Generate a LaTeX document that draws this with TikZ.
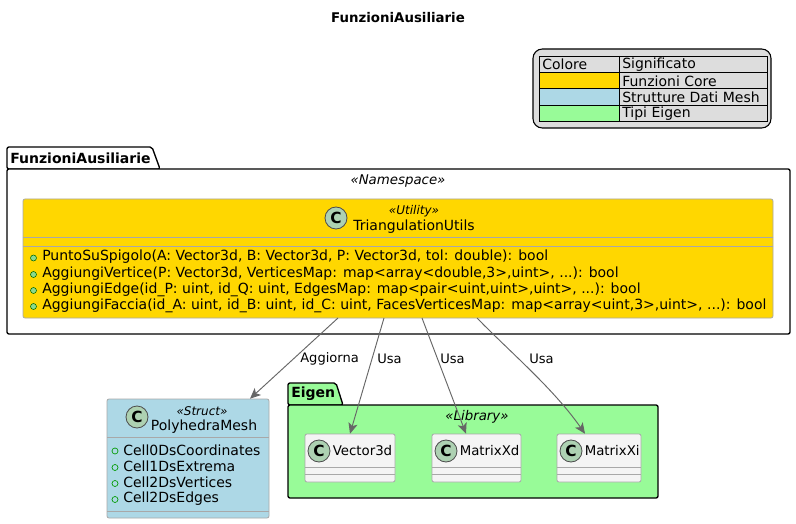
\documentclass[tikz,border=0pt]{standalone}
\usepackage{fontspec}
\setmainfont{DejaVu Sans}
\usetikzlibrary{arrows.meta,calc}
\definecolor{gold}{HTML}{FFD700}
\definecolor{lblue}{HTML}{ADD8E6}
\definecolor{pgreen}{HTML}{98FB98}
\definecolor{legbg}{HTML}{DDDDDD}
\definecolor{clsbg}{HTML}{F4F4F4}
\definecolor{clsline}{HTML}{A8A8A8}
\definecolor{circfill}{HTML}{ADD1B2}
\definecolor{conncol}{HTML}{666666}
\tikzset{
  conn/.style={draw=conncol,line width=0.7pt,-{Stealth[length=8pt,width=7pt,inset=2pt]}},
  clsbox/.style={draw=clsline,line width=0.6pt,rounded corners=1.5pt},
  cicon/.style={circle,draw=black!70,fill=circfill,line width=0.6pt,minimum size=16.5pt,inner sep=0pt,font=\fontsize{11.5}{11.5}\selectfont\bfseries},
  txt/.style={inner sep=0pt,font=\fontsize{10.5}{12}\selectfont},
  ster/.style={inner sep=0pt,font=\fontsize{9}{10}\selectfont\itshape},
  lbl/.style={inner sep=0pt,font=\fontsize{9.8}{11}\selectfont},
  bullet/.style={circle,draw=black!60!green,fill=circfill!80!green,line width=0.4pt,minimum size=4.5pt,inner sep=0pt},
  obullet/.style={circle,draw=black!40!green,line width=0.5pt,minimum size=4.5pt,inner sep=0pt},
}
\begin{document}
\begin{tikzpicture}[x=0.75pt,y=-0.75pt]
\useasboundingbox (0,0) rectangle (796,524);
\fill[white] (0,0) rectangle (796,524);
% title
\node[txt,font=\fontsize{10}{12}\selectfont\bfseries] (title) at (398,18) {FunzioniAusiliarie};
% legend
\draw[fill=legbg,line width=0.8pt,rounded corners=7pt] (533,49) rectangle (771,128);
\fill[gold] (539,72) rectangle (619,88.5);
\fill[lblue] (539,88.5) rectangle (619,105);
\fill[pgreen] (539,105) rectangle (619,121);
\draw[line width=0.7pt] (539,56) rectangle (767,121);
\draw[line width=0.5pt] (619,56) -- (619,121);
\foreach \y in {72,88.5,105} \draw[line width=0.5pt] (539,\y) -- (767,\y);
\node[txt,anchor=west] (l1a) at (542,64.5) {Colore};
\node[txt,anchor=west] (l1b) at (622,64.5) {Significato};
\node[txt,anchor=west] (l2) at (622,81) {Funzioni Core};
\node[txt,anchor=west] (l3) at (622,97.5) {Strutture Dati Mesh};
\node[txt,anchor=west] (l4) at (622,113.5) {Tipi Eigen};
% package FunzioniAusiliarie
\draw[fill=white,line width=1pt,rounded corners=1.5pt] (7,169) -- (7,147) -- (152,147) -- (160,169) -- cycle;
\draw[fill=white,line width=1pt,rounded corners=1.5pt] (7,169) rectangle (790,334);
\node[txt,font=\fontsize{10.5}{12}\selectfont\bfseries,anchor=west] (pkg1) at (10,158) {FunzioniAusiliarie};
\node[txt,font=\fontsize{10}{12}\selectfont\itshape] (ns) at (398,181) {«Namespace»};
% TriangulationUtils
\path[clsbox,fill=gold,draw=clsline] (23,199) rectangle (773,318);
\node[inner sep=0pt,minimum width=750*0.75pt,minimum height=119*0.75pt] (tu) at (398,258.5) {};
\draw[clsline,line width=0.6pt] (23,237) -- (773,237);
\draw[clsline,line width=0.6pt] (23,246) -- (773,246);
\node[cicon] (tuc) at (336,218) {C};
\node[ster] (tust) at (414,211) {«Utility»};
\node[txt] (tun) at (414,227) {TriangulationUtils};
\foreach \y/\t [count=\i] in {257/{PuntoSuSpigolo(A: Vector3d, B: Vector3d, P: Vector3d, tol: double): bool},
  273.5/{AggiungiVertice(P: Vector3d, VerticesMap: map<array<double,3>,uint>, ...): bool},
  289.5/{AggiungiEdge(id\_P: uint, id\_Q: uint, EdgesMap: map<pair<uint,uint>,uint>, ...): bool},
  305.5/{AggiungiFaccia(id\_A: uint, id\_B: uint, id\_C: uint, FacesVerticesMap: map<array<uint,3>,uint>, ...): bool}}
{
  \node[bullet] (tb\i) at (33.5,\y+1) {};
  \node[txt,anchor=west] (tm\i) at (42,\y) {\t};
}
% PolyhedraMesh
\path[clsbox,fill=lblue,draw=clsline] (107,399) rectangle (269,518);
\node[inner sep=0pt,minimum width=162*0.75pt,minimum height=119*0.75pt] (pm) at (188,458.5) {};
\draw[clsline,line width=0.6pt] (107,437) -- (269,437);
\draw[clsline,line width=0.6pt] (107,511) -- (269,511);
\node[cicon] (pmc) at (137,417) {C};
\node[ster] (pmst) at (202,411) {«Struct»};
\node[txt] (pmn) at (204,427) {PolyhedraMesh};
\foreach \y/\t [count=\i] in {450/Cell0DsCoordinates,466.5/Cell1DsExtrema,482.5/Cell2DsVertices,498.5/Cell2DsEdges}
{
  \node[obullet] (pb\i) at (115,\y+1) {};
  \node[txt,anchor=west] (pa\i) at (123,\y) {\t};
}
% Eigen package
\draw[fill=pgreen,line width=1pt,rounded corners=1.5pt] (288,405) -- (288,383) -- (336,383) -- (343,405) -- cycle;
\draw[fill=pgreen,line width=1pt,rounded corners=1.5pt] (288,405) rectangle (658,498);
\node[txt,font=\fontsize{10.5}{12}\selectfont\bfseries,anchor=west] (pkg2) at (291,394) {Eigen};
\node[txt,font=\fontsize{10}{12}\selectfont\itshape] (lib) at (477,417) {«Library»};
\foreach \nm/\xa/\xb/\lab in {v3/305/395/Vector3d, mxd/432/521/MatrixXd, mxi/557/641/MatrixXi}
{
  \path[clsbox,fill=clsbg,draw=clsline] (\xa,434) rectangle (\xb,482);
  \node[inner sep=0pt,minimum width={(\xb-\xa)*0.75pt},minimum height=48*0.75pt] (\nm) at ({(\xa+\xb)/2},458) {};
  \draw[clsline,line width=0.6pt] (\xa,467) -- (\xb,467);
  \draw[clsline,line width=0.6pt] (\xa,474) -- (\xb,474);
  \node[cicon] (\nm c) at (\xa+14,451) {C};
  \node[txt,font=\fontsize{10}{12}\selectfont,anchor=west] (\nm n) at (\xa+27.5,451) {\lab};
}
% connectors
\coordinate (s1) at (338,318);
\coordinate (s2) at (384,318);
\coordinate (s3) at (422,318);
\coordinate (s4) at (477,318);
\draw[conn] (s1) -- ($(pm.north)+(62,0)$);
\draw[conn] (s2) -- (v3.north);
\draw[conn] (s3) -- ($(mxd.north)+(-10.5,0)$);
\draw[conn] (s4) .. controls (510,352) and (553,388) .. ($(mxi.north)+(-14,0)$);
\node[lbl,anchor=west] (a1) at (300,359) {Aggiorna};
\node[lbl,anchor=west] (a2) at (377,359) {Usa};
\node[lbl,anchor=west] (a3) at (440,359) {Usa};
\node[lbl,anchor=west] (a4) at (529,359) {Usa};
\end{tikzpicture}
\end{document}
